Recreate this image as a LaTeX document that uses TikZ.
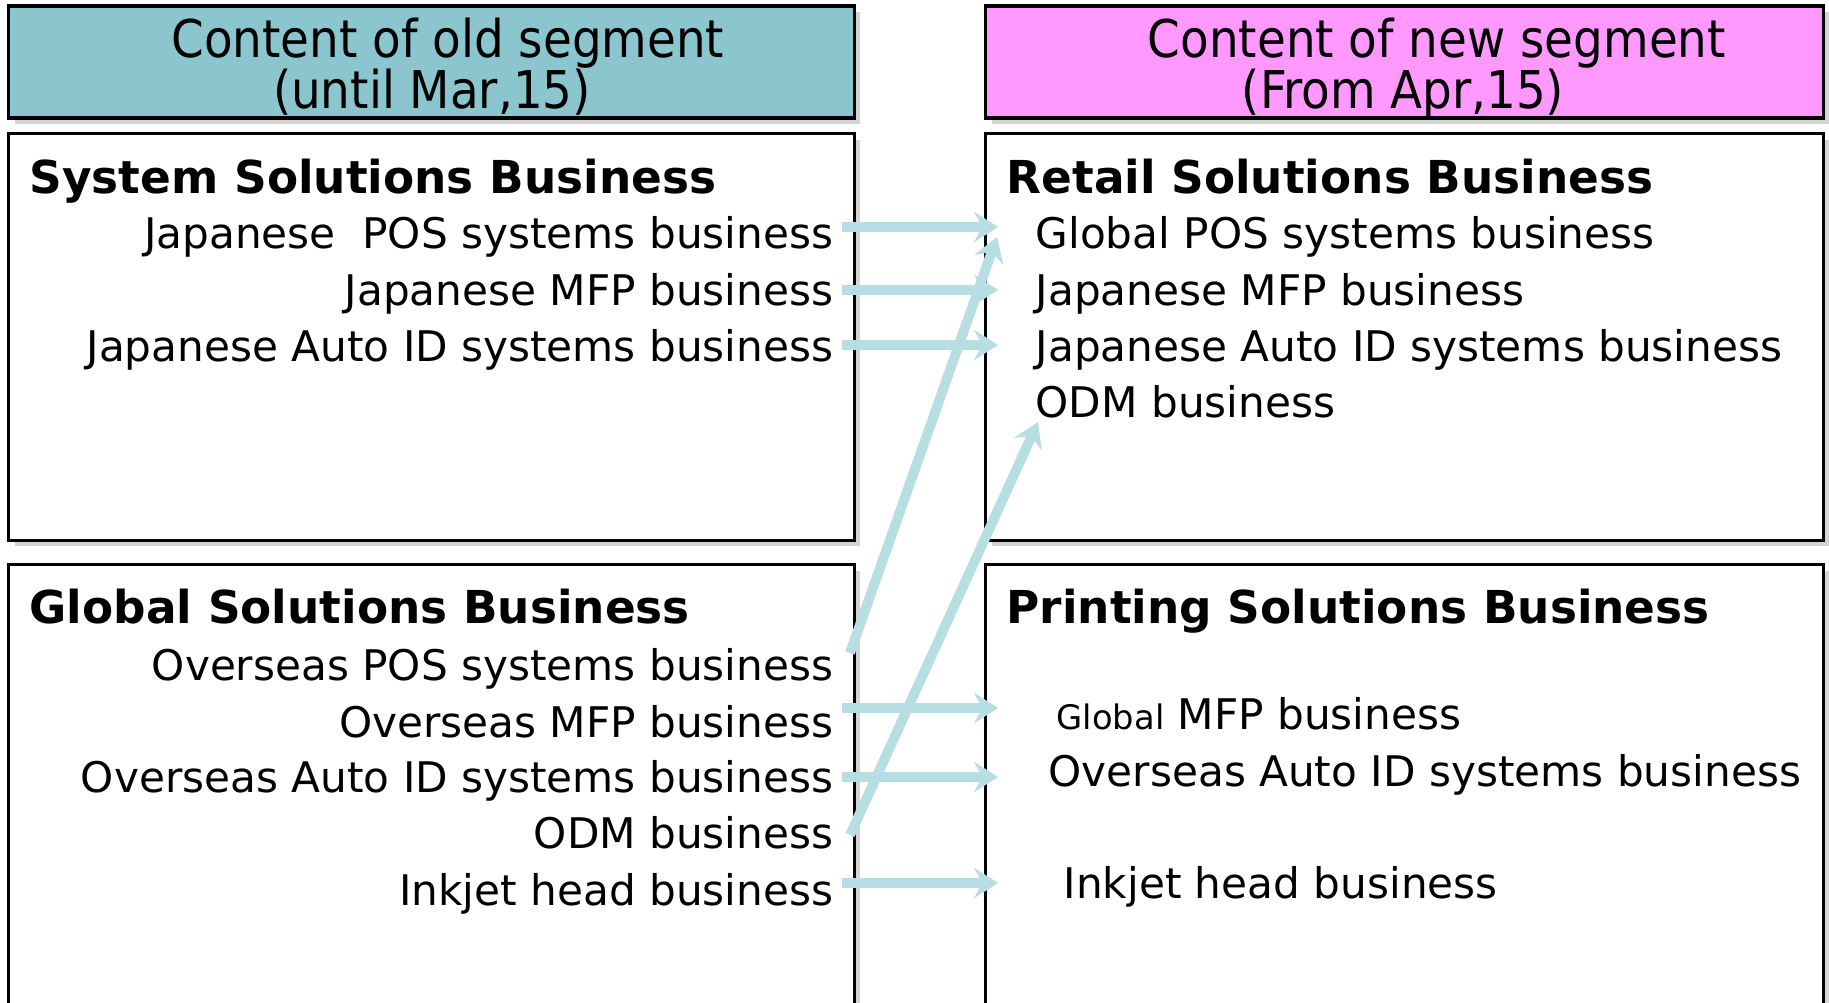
\documentclass[tikz,border=0pt]{standalone}
\usepackage{fontspec}
\setmainfont{DejaVu Sans}
\newfontfamily\condfont{DejaVu Sans Condensed}
\usetikzlibrary{arrows.meta,calc,shadows}

\definecolor{oldteal}{RGB}{139,198,206}
\definecolor{newpink}{RGB}{255,153,255}
\definecolor{arrowblue}{RGB}{183,222,226}

\tikzset{
  segbox/.style={draw, line width=0.9pt, fill=white, inner sep=0,
    drop shadow={shadow xshift=0.06cm, shadow yshift=-0.06cm, opacity=0.35}},
  hdrtext/.style={font=\condfont\fontsize{14.8}{18}\selectfont, inner sep=0, anchor=base},
  busname/.style={font=\bfseries\fontsize{12.9}{16}\selectfont, inner sep=0, anchor=base west},
  olditem/.style={font=\fontsize{12}{15}\selectfont, inner sep=0, anchor=base east},
  newitem/.style={font=\fontsize{12}{15}\selectfont, inner sep=0, anchor=base west},
  moveto/.style={line width=2.8pt, color=arrowblue,
    -{Stealth[length=0.24cm, width=0.3cm, inset=0.08cm]}}
}

\begin{document}
\begin{tikzpicture}[x=0.01cm, y=-0.01cm]
\useasboundingbox (0,0) rectangle (1829,1002);

% segment boxes
\node[segbox, fill=oldteal, minimum width=8.45cm, minimum height=1.12cm] (oldhdr) at (431.5,62) {};
\node[segbox, fill=newpink, minimum width=8.37cm, minimum height=1.12cm] (newhdr) at (1404.5,62) {};
\node[segbox, minimum width=8.45cm, minimum height=4.06cm] (systop) at (431.5,337) {};
\node[segbox, minimum width=8.37cm, minimum height=4.06cm] (rettop) at (1404.5,337) {};
\node[segbox, minimum width=8.45cm, minimum height=4.75cm] (globot) at (431.5,802.5) {};
\node[segbox, minimum width=8.37cm, minimum height=4.75cm] (prnbot) at (1404.5,802.5) {};

% headers
\node[hdrtext] (oldhdra) at (448,57) {Content of old segment};
\node[hdrtext] (oldhdrb) at (432,108) {(until Mar,15)};
\node[hdrtext] (newhdra) at (1437,57) {Content of new segment};
\node[hdrtext] (newhdrb) at (1403,108) {(From Apr,15)};

% old segments
\node[busname] (sysname) at (29,193) {System Solutions Business};
\node[olditem] (jpos) at (834,248) {Japanese\ \ POS systems business};
\node[olditem] (jmfp) at (834,305) {Japanese MFP business};
\node[olditem] (jaid) at (834,361) {Japanese Auto ID systems business};

\node[busname] (gloname) at (29,623) {Global Solutions Business};
\node[olditem] (opos) at (834,680) {Overseas POS systems business};
\node[olditem] (omfp) at (834,737) {Overseas MFP business};
\node[olditem] (oaid) at (834,792) {Overseas Auto ID systems business};
\node[olditem] (odm) at (834,848) {ODM business};
\node[olditem] (ink) at (834,905) {Inkjet head business};

% new segments
\node[busname] (retname) at (1006,193) {Retail Solutions Business};
\node[newitem] (gpos) at (1035,248) {Global POS systems business};
\node[newitem] (nmfp) at (1035,305) {Japanese MFP business};
\node[newitem] (naid) at (1035,361) {Japanese Auto ID systems business};
\node[newitem] (nodm) at (1035,417) {ODM business};

\node[busname] (prnname) at (1006,623) {Printing Solutions Business};
\node[newitem] (gmfp) at (1056,729) {{\fontsize{9.6}{12}\selectfont Global} MFP business};
\node[newitem] (noaid) at (1048,786) {Overseas Auto ID systems business};
\node[newitem] (nink) at (1063,898) {Inkjet head business};

% moves
\foreach \a/\b/\dy in {jpos/gpos/-21, jmfp/nmfp/-15, jaid/naid/-16,
                       omfp/gmfp/-21, oaid/noaid/-9, ink/nink/-15}
  \draw[moveto] ($(\a.base east |- \b.base west)+(8,\dy)$)
    -- ($(rettop.west |- \b.base west)+(14,\dy)$);
\draw[moveto] ($(opos.base east)+(16,-27)$) -- ($(gpos.base west)+(-38,-11)$);
\draw[moveto] ($(odm.base east)+(16,-13)$) -- ($(nodm.base west)+(3,5)$);
\end{tikzpicture}
\end{document}
